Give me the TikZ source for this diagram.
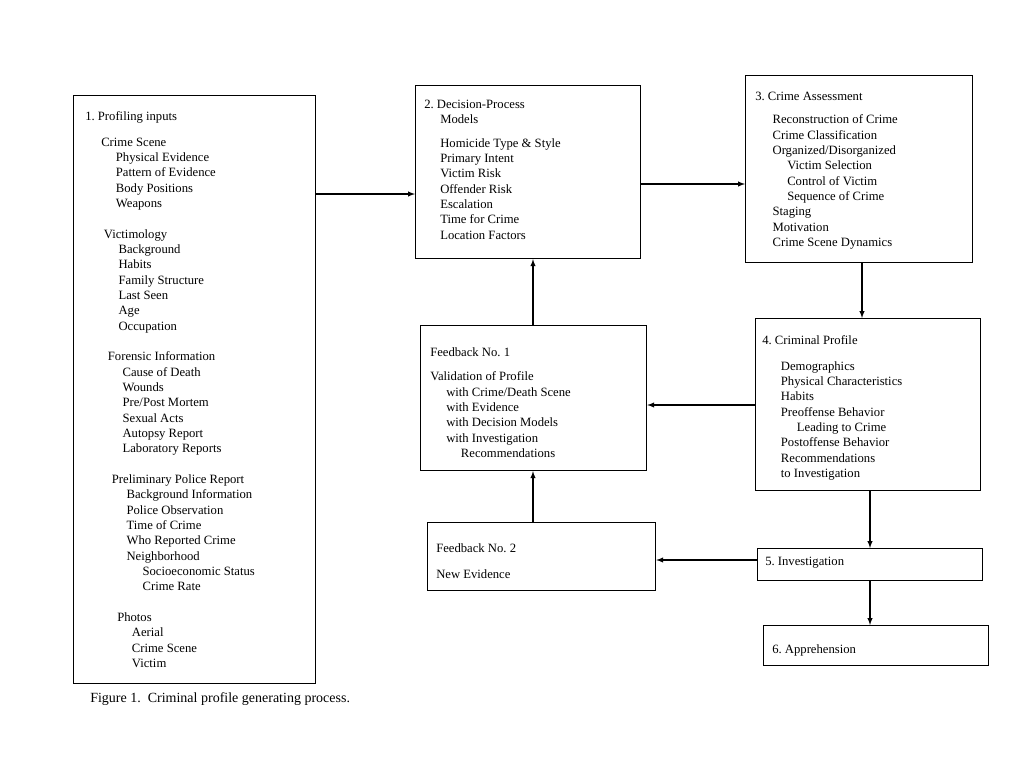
\documentclass[tikz,border=0pt]{standalone}
\usepackage{fontspec}
\setmainfont{Liberation Serif}
\usetikzlibrary{positioning}

\begin{document}
\begin{tikzpicture}[x=0.75pt,y=0.75pt,yscale=-1,xscale=1,
  boxnode/.style={draw, line width=0.9pt, anchor=north west, inner sep=0pt},
  txt/.style={anchor=north west, inner sep=0pt, align=left, font=\fontsize{9.5}{11.5}\selectfont},
  flow/.style={-latex, line width=0.8pt}]
\path[fill=white] (0,0) rectangle (1030,772);

% Boxes
\node[boxnode, minimum width=242*0.75pt, minimum height=588*0.75pt] (inputs) at (73,95) {};
\node[boxnode, minimum width=225*0.75pt, minimum height=173*0.75pt] (decision) at (415,85) {};
\node[boxnode, minimum width=227*0.75pt, minimum height=187*0.75pt] (assess) at (745,75) {};
\node[boxnode, minimum width=225*0.75pt, minimum height=172*0.75pt] (profile) at (755,318) {};
\node[boxnode, minimum width=226*0.75pt, minimum height=145*0.75pt] (fbone) at (420,325) {};
\node[boxnode, minimum width=228*0.75pt, minimum height=68*0.75pt] (fbtwo) at (427,522) {};
\node[boxnode, minimum width=225*0.75pt, minimum height=32*0.75pt] (invest) at (757,548) {};
\node[boxnode, minimum width=225*0.75pt, minimum height=40*0.75pt] (appr) at (763,625) {};

% Texts
\node[txt] (inputstext) at (85,111) {1.\ Profiling inputs\\[8pt]
\hspace*{12pt}Crime Scene\\
\hspace*{23pt}Physical Evidence\\
\hspace*{23pt}Pattern of Evidence\\
\hspace*{23pt}Body Positions\\
\hspace*{23pt}Weapons\\[11.5pt]
\hspace*{14pt}Victimology\\
\hspace*{25pt}Background\\
\hspace*{25pt}Habits\\
\hspace*{25pt}Family Structure\\
\hspace*{25pt}Last Seen\\
\hspace*{25pt}Age\\
\hspace*{25pt}Occupation\\[11.5pt]
\hspace*{17pt}Forensic Information\\
\hspace*{28pt}Cause of Death\\
\hspace*{28pt}Wounds\\
\hspace*{28pt}Pre/Post Mortem\\
\hspace*{28pt}Sexual Acts\\
\hspace*{28pt}Autopsy Report\\
\hspace*{28pt}Laboratory Reports\\[11.5pt]
\hspace*{20pt}Preliminary Police Report\\
\hspace*{31pt}Background Information\\
\hspace*{31pt}Police Observation\\
\hspace*{31pt}Time of Crime\\
\hspace*{31pt}Who Reported Crime\\
\hspace*{31pt}Neighborhood\\
\hspace*{43pt}Socioeconomic Status\\
\hspace*{43pt}Crime Rate\\[11.5pt]
\hspace*{24pt}Photos\\
\hspace*{35pt}Aerial\\
\hspace*{35pt}Crime Scene\\
\hspace*{35pt}Victim};

\node[txt] (decisiontext) at (424,100) {2.\ Decision-Process\\
\hspace*{12pt}Models\\[6pt]
\hspace*{12pt}Homicide Type \& Style\\
\hspace*{12pt}Primary Intent\\
\hspace*{12pt}Victim Risk\\
\hspace*{12pt}Offender Risk\\
\hspace*{12pt}Escalation\\
\hspace*{12pt}Time for Crime\\
\hspace*{12pt}Location Factors};

\node[txt] (assesstext) at (755,92) {3.\ Crime Assessment\\[6pt]
\hspace*{13pt}Reconstruction of Crime\\
\hspace*{13pt}Crime Classification\\
\hspace*{13pt}Organized/Disorganized\\
\hspace*{24pt}Victim Selection\\
\hspace*{24pt}Control of Victim\\
\hspace*{24pt}Sequence of Crime\\
\hspace*{13pt}Staging\\
\hspace*{13pt}Motivation\\
\hspace*{13pt}Crime Scene Dynamics};

\node[txt] (profiletext) at (762,335) {4.\ Criminal Profile\\[8pt]
\hspace*{14pt}Demographics\\
\hspace*{14pt}Physical Characteristics\\
\hspace*{14pt}Habits\\
\hspace*{14pt}Preoffense Behavior\\
\hspace*{26pt}Leading to Crime\\
\hspace*{14pt}Postoffense Behavior\\
\hspace*{14pt}Recommendations\\
\hspace*{14pt}to Investigation};

\node[txt] (fbonetext) at (430,347) {Feedback No.\ 1\\[7pt]
Validation of Profile\\
\hspace*{12pt}with Crime/Death Scene\\
\hspace*{12pt}with Evidence\\
\hspace*{12pt}with Decision Models\\
\hspace*{12pt}with Investigation\\
\hspace*{23pt}Recommendations};

\node[txt] (fbtwotext) at (436,543) {Feedback No.\ 2\\[8pt]
New Evidence};

\node[txt] (investtext) at (765,557) {5.\ Investigation};
\node[txt] (apprtext) at (772,644) {6.\ Apprehension};

\node[txt, font=\fontsize{10.5}{12}\selectfont] (caption) at (90,692) {Figure 1.\ \ Criminal profile generating process.};

% Connectors
\draw[flow] (inputs.east |- 0,194) -- (decision.west |- 0,194);
\draw[flow] (decision.east |- 0,184) -- (assess.west |- 0,184);
\draw[flow] (assess.south -| 862,0) -- (profile.north -| 862,0);
\draw[flow] (profile.west |- 0,405) -- (fbone.east |- 0,405);
\draw[flow] (fbone.north -| 533,0) -- (decision.south -| 533,0);
\draw[flow] (profile.south -| 870,0) -- (invest.north -| 870,0);
\draw[flow] (invest.west |- 0,560) -- (fbtwo.east |- 0,560);
\draw[flow] (fbtwo.north -| 533,0) -- (fbone.south -| 533,0);
\draw[flow] (invest.south -| 870,0) -- (appr.north -| 870,0);
\end{tikzpicture}
\end{document}
